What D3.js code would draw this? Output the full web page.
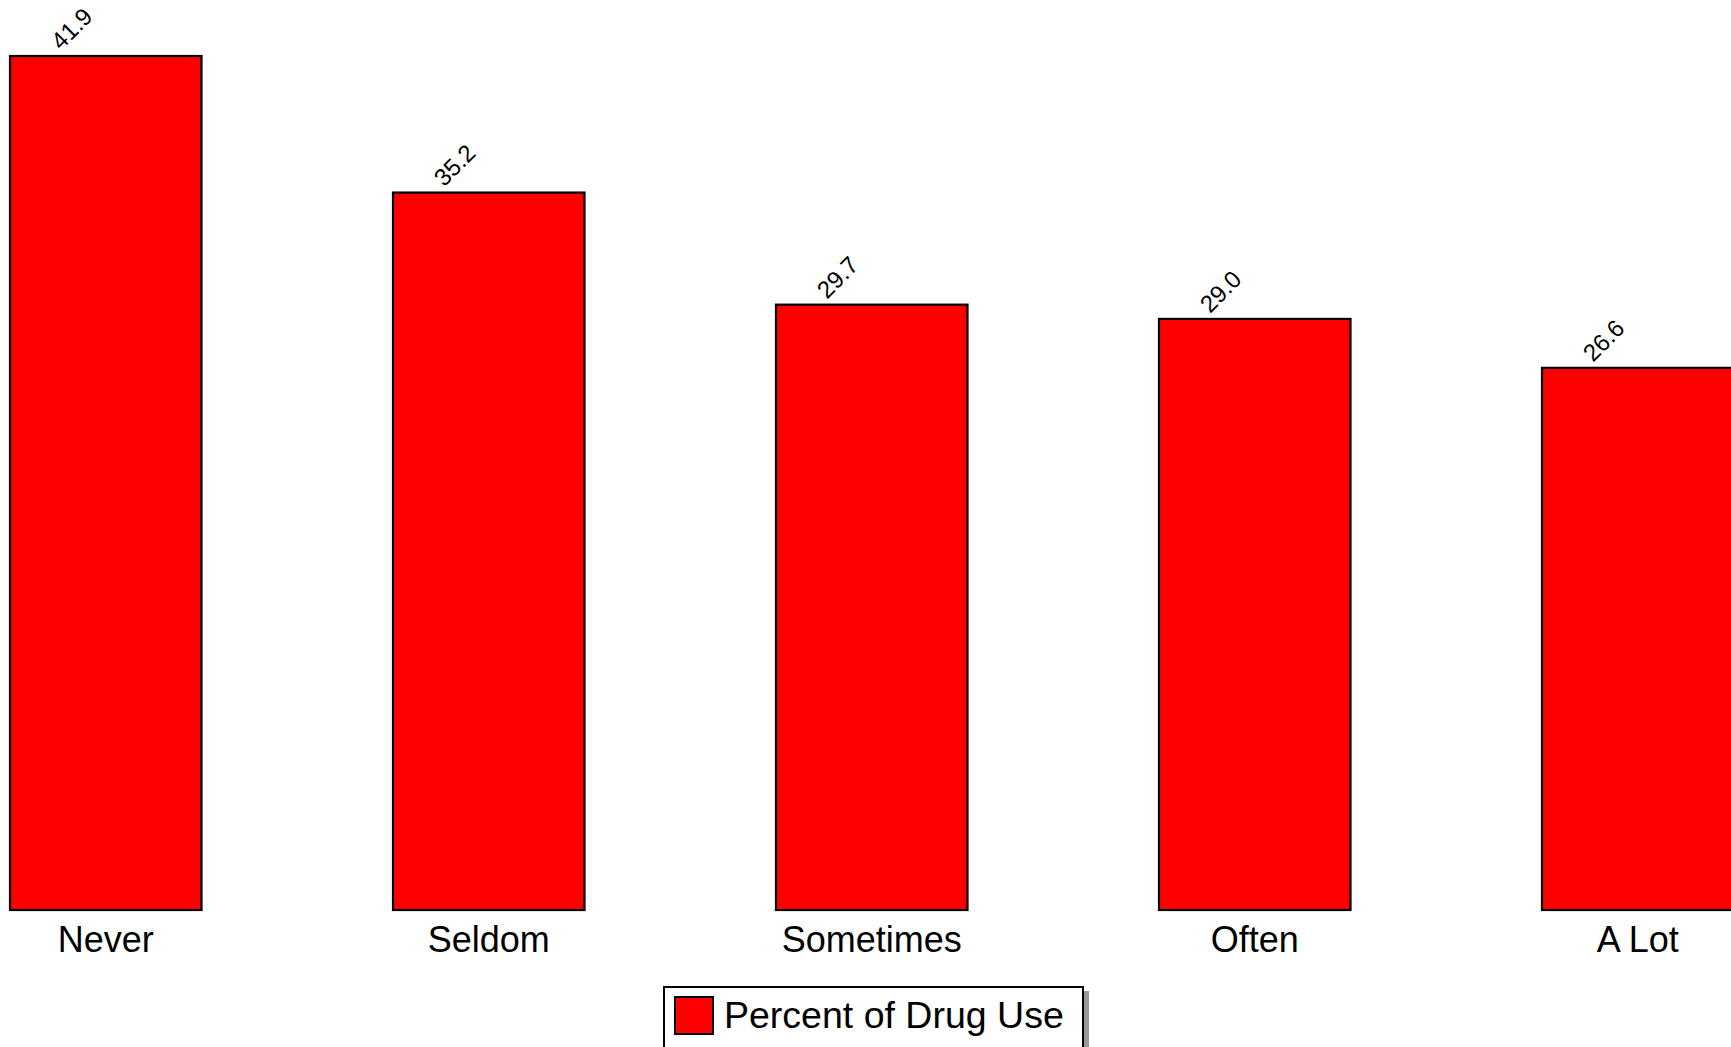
<!DOCTYPE html>
<html>
<head>
<meta charset="utf-8">
<script src="https://cdn.jsdelivr.net/npm/d3@7"></script>
<style>
  html, body { margin: 0; padding: 0; background: #fff; overflow: hidden; }
  svg { display: block; font-family: "Liberation Sans", Arial, sans-serif; }
</style>
</head>
<body>
<script>
const categories = ["Never", "Seldom", "Sometimes", "Often", "A Lot"];
const values = [41.9, 35.2, 29.7, 29.0, 26.6];
const seriesName = "Percent of Drug Use";

const W = 1731, H = 1047;
const svg = d3.select("body").append("svg").attr("width", W).attr("height", H);

const x = d3.scaleBand().domain(categories).range([10, 1733.5]).paddingInner(0.5).paddingOuter(0);
const y = d3.scaleLinear().domain([0, 41.9]).range([910, 56]);

svg.append("g").selectAll("rect").data(categories).join("rect")
  .attr("x", d => x(d))
  .attr("y", (d, i) => y(values[i]))
  .attr("width", x.bandwidth())
  .attr("height", (d, i) => y(0) - y(values[i]))
  .attr("fill", "#ff0000")
  .attr("stroke", "#000")
  .attr("stroke-width", 2.2);

svg.append("g").selectAll("text").data(categories).join("text")
  .attr("transform", (d, i) => `translate(${x(d) + 51},${y(values[i]) - 5}) rotate(-45)`)
  .attr("font-size", 24)
  .attr("fill", "#000")
  .attr("text-anchor", "start")
  .text((d, i) => values[i].toFixed(1));

const xAxis = d3.axisBottom(x).tickSize(0).tickPadding(0);
const gx = svg.append("g").attr("transform", "translate(0,910)").call(xAxis);
gx.select(".domain").remove();
gx.selectAll("text")
  .attr("font-size", 36)
  .attr("font-family", "Liberation Sans, Arial, sans-serif")
  .attr("fill", "#000")
  .attr("dy", null)
  .attr("y", 42);

// legend
const lg = svg.append("g");
lg.append("rect").attr("x", 668).attr("y", 991).attr("width", 421).attr("height", 70).attr("fill", "#999");
lg.append("rect").attr("x", 664).attr("y", 987).attr("width", 419).attr("height", 70)
  .attr("fill", "#fff").attr("stroke", "#000").attr("stroke-width", 2);
lg.append("rect").attr("x", 675).attr("y", 997).attr("width", 38).attr("height", 37)
  .attr("fill", "#ff0000").attr("stroke", "#000").attr("stroke-width", 2);
lg.append("text").attr("x", 724).attr("y", 1028).attr("font-size", 37.5).attr("fill", "#000").text(seriesName);
</script>
</body>
</html>
